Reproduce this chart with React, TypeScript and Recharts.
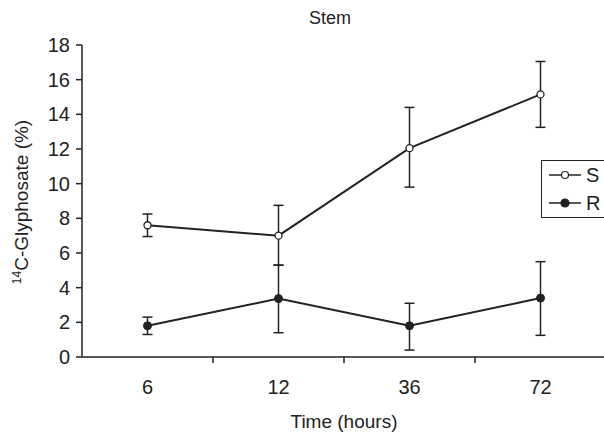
import { CartesianGrid, ErrorBar, Legend, Line, LineChart, XAxis, YAxis } from "recharts";

const FONT = "'Liberation Sans', Arial, Helvetica, sans-serif";
const INK = "#222";

// sampling times (hours) shown as categories
const TIME_LABELS = ["6", "12", "36", "72"];

// susceptible (S) – mean and asymmetric error (below / above)
const S_MEAN = [7.6, 7.0, 12.05, 15.15];
const S_ERR_LOW = [0.65, 1.7, 2.25, 1.9];
const S_ERR_HIGH = [0.65, 1.75, 2.35, 1.9];

// resistant (R)
const R_MEAN = [1.8, 3.37, 1.8, 3.4];
const R_ERR_LOW = [0.5, 1.97, 1.4, 2.15];
const R_ERR_HIGH = [0.5, 1.93, 1.3, 2.1];

const Y_TICKS = [0, 2, 4, 6, 8, 10, 12, 14, 16, 18];
// half values carry the category labels, whole values are the separator ticks
const X_TICKS = [0.5, 1, 1.5, 2, 2.5, 3, 3.5];

const data = TIME_LABELS.map((t, i) => ({
  x: i + 0.5,
  time: t,
  s: S_MEAN[i],
  sErr: [S_ERR_LOW[i], S_ERR_HIGH[i]],
  r: R_MEAN[i],
  rErr: [R_ERR_LOW[i], R_ERR_HIGH[i]],
}));

function XTick(props: any) {
  const { x, y, payload } = props;
  const v = payload.value as number;
  if (Number.isInteger(v)) {
    return <line x1={x} y1={y} x2={x} y2={y + 6} stroke={INK} strokeWidth={1.5} />;
  }
  return (
    <text x={x} y={y + 37} textAnchor="middle" fontSize={20} fontFamily={FONT} fill={INK}>
      {TIME_LABELS[Math.floor(v)]}
    </text>
  );
}

function LegendBox() {
  const row = (label: string, filled: boolean) => (
    <div style={{ display: "flex", alignItems: "center", height: 28 }}>
      <svg width={36} height={12}>
        <line x1={2} y1={6} x2={34} y2={6} stroke={INK} strokeWidth={1.5} />
        <circle cx={18} cy={6} r={filled ? 4 : 3.5} fill={filled ? INK : "#fff"} stroke={INK} strokeWidth={1.2} />
      </svg>
      <span style={{ marginLeft: 3, fontSize: 20, fontFamily: FONT, color: INK, lineHeight: "20px" }}>{label}</span>
    </div>
  );
  return (
    <div style={{ border: `1.5px solid ${INK}`, width: 70, height: 58, padding: "0 0 0 5px", boxSizing: "border-box" }}>
      {row("S", false)}
      {row("R", true)}
    </div>
  );
}

export default function App() {
  return (
    <div style={{ position: "absolute", left: 0, top: 0, width: 604, height: 432, overflow: "hidden", background: "#fff" }}>
      <div
        style={{
          position: "absolute",
          left: 0,
          width: 660,
          top: 8,
          textAlign: "center",
          fontFamily: FONT,
          fontSize: 18,
          color: INK,
        }}
      >
        Stem
      </div>
      <LineChart width={612} height={432} data={data} margin={{ top: 45, right: 6, bottom: 35, left: 22 }}>
        <CartesianGrid stroke="none" />
        <XAxis
          dataKey="x"
          type="number"
          domain={[0, 4]}
          ticks={X_TICKS}
          interval={0}
          tickSize={0}
          tickMargin={0}
          tickLine={false}
          tick={<XTick />}
          height={40}
          axisLine={{ stroke: INK, strokeWidth: 1.5 }}
          label={{
            content: () => (
              <text x={344} y={428} textAnchor="middle" fontSize={19} fontFamily={FONT} fill={INK}>
                Time (hours)
              </text>
            ),
          }}
        />
        <YAxis
          domain={[0, 18]}
          ticks={Y_TICKS}
          interval={0}
          width={60}
          tickSize={6}
          tickMargin={6}
          tick={{ fontSize: 20, fontFamily: FONT, fill: INK }}
          tickLine={{ stroke: INK, strokeWidth: 1.5 }}
          axisLine={{ stroke: INK, strokeWidth: 1.5 }}
          label={{
            content: () => (
              <text transform="translate(28,202) rotate(-90)" textAnchor="middle" fontFamily={FONT} fill={INK}>
                <tspan fontSize={12} dy={-7}>14</tspan>
                <tspan fontSize={19} dy={7}>C-Glyphosate (%)</tspan>
              </text>
            ),
          }}
        />
        <Legend
          layout="vertical"
          align="center"
          verticalAlign="middle"
          wrapperStyle={{ position: "absolute", left: 541, top: 160, width: 70 }}
          content={() => <LegendBox />}
        />
        <Line
          dataKey="s"
          type="linear"
          stroke={INK}
          strokeWidth={2}
          dot={{ r: 3.5, fill: "#fff", stroke: INK, strokeWidth: 1.3 }}
          isAnimationActive={false}
        >
          <ErrorBar dataKey="sErr" direction="y" width={5} stroke={INK} strokeWidth={1.5} />
        </Line>
        <Line
          dataKey="r"
          type="linear"
          stroke={INK}
          strokeWidth={2}
          dot={{ r: 4, fill: INK, stroke: INK, strokeWidth: 1 }}
          isAnimationActive={false}
        >
          <ErrorBar dataKey="rErr" direction="y" width={5} stroke={INK} strokeWidth={1.5} />
        </Line>
      </LineChart>
    </div>
  );
}
